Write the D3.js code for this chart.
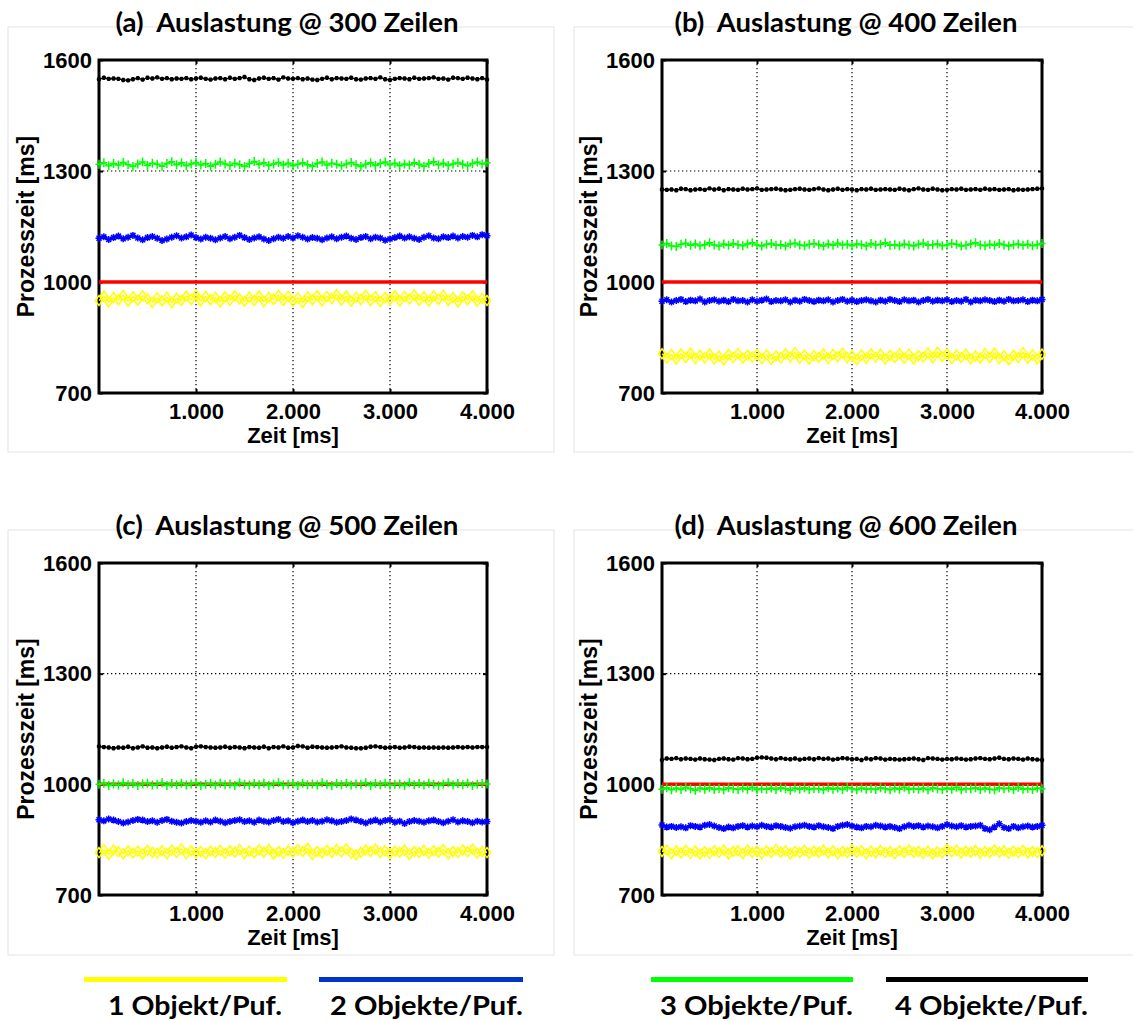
<!DOCTYPE html>
<html>
<head>
<meta charset="utf-8">
<script src="https://cdn.jsdelivr.net/npm/d3@7"></script>
<style>
body { margin: 0; background: #fff; }
text { fill: #000; }
</style>
</head>
<body>
<script>
var W = 1133, H = 1021;

var titles = ["(a)  Auslastung @ 300 Zeilen", "(b)  Auslastung @ 400 Zeilen",
              "(c)  Auslastung @ 500 Zeilen", "(d)  Auslastung @ 600 Zeilen"];
var seriesNames = ["1 Objekt/Puf.", "2 Objekte/Puf.", "3 Objekte/Puf.", "4 Objekte/Puf."];
var yTicks = [700, 1000, 1300, 1600];
var xTicks = [1000, 2000, 3000, 4000];
var xMax = 4000;
var target = 1000;   // red reference line

// (a) 300 Zeilen
var a1 = [950,962,946,958,952,964,948,960,951,963,955,945,957,949,959,944,956,950,962,953,965,949,961,952,958,946,960,951,963,954,948,959,950,962,947,958,953,964,950,961,948,957,945,960,952,963,949,961,955,966,951,962,948,959,953,964,950,960,947,958,952,963,949,961,954,965,951,960,948,962,953,964,950,958,946,960,952,963,948,956,950];
var a2 = [1118,1122,1115,1120,1124,1117,1121,1126,1119,1114,1120,1123,1118,1112,1116,1121,1125,1119,1122,1127,1120,1116,1121,1118,1114,1119,1123,1117,1121,1126,1120,1115,1119,1122,1116,1112,1117,1121,1118,1123,1119,1125,1121,1116,1120,1118,1114,1119,1122,1117,1121,1124,1118,1115,1120,1123,1117,1121,1119,1113,1116,1120,1124,1119,1122,1118,1115,1121,1125,1119,1117,1122,1120,1124,1119,1123,1121,1126,1122,1128,1125];
var a3 = [1318,1322,1314,1320,1316,1323,1317,1312,1319,1324,1315,1321,1318,1313,1320,1325,1317,1322,1314,1319,1323,1316,1320,1313,1318,1324,1319,1315,1321,1317,1312,1320,1326,1318,1322,1315,1319,1323,1316,1321,1314,1318,1322,1317,1313,1320,1324,1316,1321,1318,1314,1319,1323,1317,1312,1318,1322,1315,1320,1324,1317,1321,1314,1319,1316,1322,1318,1313,1320,1325,1317,1321,1315,1319,1323,1318,1314,1320,1324,1319,1322];
var a4 = [1548,1552,1549,1550,1549,1546,1545,1548,1551,1547,1552,1550,1553,1549,1551,1548,1550,1549,1551,1548,1550,1552,1549,1547,1550,1551,1548,1552,1549,1551,1554,1548,1546,1550,1552,1549,1551,1547,1553,1550,1549,1551,1548,1550,1547,1546,1549,1552,1548,1551,1550,1549,1552,1548,1547,1550,1551,1549,1553,1548,1546,1549,1551,1550,1548,1552,1549,1550,1551,1553,1549,1550,1547,1552,1551,1549,1552,1550,1548,1551,1547];

// (b) 400 Zeilen
var b1 = [806,794,804,792,806,796,808,793,802,795,806,792,800,790,804,796,807,794,802,797,805,793,803,791,800,795,806,797,809,794,803,792,801,796,806,793,804,798,808,795,800,790,803,794,806,797,805,792,802,796,807,794,805,792,801,797,808,795,810,798,806,793,803,796,805,792,800,794,807,796,808,793,801,790,802,796,809,794,803,792,805];
var b2 = [948,952,946,950,953,947,951,949,954,946,950,952,948,951,947,953,949,950,946,952,948,951,954,947,950,949,952,946,951,948,953,950,947,951,949,952,946,950,953,948,951,947,950,952,949,946,951,948,953,950,947,952,949,951,946,950,953,948,951,949,952,947,950,948,953,946,951,949,952,950,947,951,948,953,949,950,952,947,951,949,953];
var b3 = [1100,1104,1097,1096,1102,1105,1099,1103,1098,1101,1106,1100,1097,1103,1099,1104,1101,1098,1103,1106,1100,1097,1102,1104,1099,1101,1097,1103,1105,1100,1098,1102,1104,1101,1097,1103,1099,1105,1100,1102,1098,1103,1101,1097,1104,1100,1102,1106,1099,1101,1098,1103,1100,1097,1102,1105,1099,1101,1103,1098,1100,1104,1102,1097,1099,1103,1106,1100,1098,1102,1099,1104,1100,1097,1101,1103,1099,1102,1098,1101,1104];
var b4 = [1250,1249,1250,1248,1252,1251,1248,1250,1251,1249,1253,1250,1252,1248,1251,1250,1249,1252,1250,1251,1253,1249,1250,1251,1252,1250,1248,1249,1251,1252,1250,1249,1251,1253,1250,1248,1250,1252,1249,1251,1250,1248,1251,1250,1252,1249,1250,1251,1250,1249,1252,1250,1248,1251,1253,1250,1249,1252,1250,1248,1249,1251,1250,1252,1249,1250,1251,1249,1252,1250,1251,1249,1250,1251,1248,1250,1249,1250,1251,1252,1253];

// (c) 500 Zeilen
var c1 = [815,823,810,822,817,812,820,814,819,811,821,816,813,820,812,822,815,825,812,820,814,818,812,819,815,821,813,820,816,823,812,819,814,822,816,824,811,818,813,820,816,823,818,826,810,818,814,821,815,823,817,825,813,809,816,822,818,824,815,820,812,819,816,822,810,818,815,821,813,820,816,823,812,818,815,822,817,824,813,818,815];
var c2 = [904,901,906,903,899,895,898,902,905,903,899,901,897,902,905,900,897,895,899,902,900,897,901,898,903,900,896,899,902,904,899,901,897,903,900,898,902,905,899,901,896,900,903,899,902,898,900,904,901,897,899,902,906,903,899,895,900,903,898,902,904,897,900,894,899,902,900,897,901,903,899,896,900,904,898,901,899,896,900,898,899];
var c3 = [1000,1003,997,1001,998,1004,999,1002,997,1001,1003,998,1000,1004,997,1002,999,1003,998,1001,1004,997,1000,1002,998,1003,999,1001,997,1004,1000,998,1002,999,1003,997,1001,1004,998,1000,1002,997,1003,999,1001,998,1004,1000,997,1002,999,1003,998,1001,1000,1004,997,1002,999,1003,998,1000,1001,997,1004,999,1002,998,1003,1000,997,1001,1004,998,1002,999,1003,997,1000,1002,1001];
var c4 = [1103,1101,1100,1098,1100,1099,1102,1098,1100,1103,1099,1100,1098,1100,1102,1099,1101,1103,1100,1098,1102,1103,1101,1100,1099,1100,1102,1099,1101,1100,1098,1101,1100,1099,1102,1098,1101,1100,1103,1099,1100,1104,1103,1099,1102,1101,1100,1099,1100,1101,1103,1100,1099,1098,1098,1099,1102,1103,1101,1099,1100,1101,1099,1100,1102,1101,1099,1100,1099,1100,1099,1100,1099,1100,1101,1100,1101,1100,1101,1101,1101];

// (d) 600 Zeilen
var d1 = [818,822,812,820,814,821,813,819,811,817,813,820,815,822,811,818,820,812,822,815,819,812,820,815,823,816,820,811,818,815,821,813,819,816,822,814,820,812,818,815,823,816,820,812,819,814,821,815,818,812,820,815,822,816,818,813,819,811,817,814,824,817,821,814,819,816,821,813,818,815,822,816,820,813,819,815,821,814,818,815,820];
var d2 = [890,884,886,883,885,882,888,886,884,889,891,887,883,880,884,882,886,888,884,887,885,889,886,884,888,886,883,881,885,887,889,886,884,888,885,883,880,886,889,891,887,884,882,886,885,889,887,884,886,883,880,885,889,886,888,884,887,885,882,886,891,887,885,888,884,886,887,889,880,877,884,893,883,880,886,882,885,887,884,886,889];
var d3s = [987,991,985,990,986,992,988,984,990,987,991,986,989,985,991,988,986,990,987,992,985,989,987,990,986,991,988,984,990,987,991,986,989,988,985,991,987,990,986,992,988,985,990,987,989,986,991,988,985,990,987,992,986,989,987,990,985,991,988,986,990,987,992,985,989,988,991,986,990,987,985,991,988,990,986,992,987,989,986,990,988];
var d4 = [1066,1070,1069,1071,1068,1070,1069,1067,1070,1068,1067,1066,1069,1070,1068,1067,1071,1070,1068,1069,1072,1073,1072,1070,1068,1071,1069,1068,1070,1067,1069,1070,1068,1071,1069,1070,1067,1069,1071,1070,1068,1069,1066,1070,1068,1071,1070,1067,1069,1068,1067,1068,1069,1070,1068,1066,1071,1070,1069,1067,1069,1068,1070,1069,1067,1068,1070,1071,1069,1068,1070,1072,1069,1068,1070,1069,1067,1070,1068,1067,1066];

var panelData = [[a1, a2, a3, a4], [b1, b2, b3, b4], [c1, c2, c3, c4], [d1, d2, d3s, d4]];

// plot boxes
var boxes = [
    {l: 99,  r: 487,  t: 60,  b: 393, fx: 8,   fy: 27,  fw: 546, fh: 425},
    {l: 662, r: 1042, t: 60,  b: 393, fx: 574, fy: 27,  fw: 580, fh: 425},
    {l: 99,  r: 487,  t: 563, b: 895, fx: 8,   fy: 530, fw: 546, fh: 425},
    {l: 662, r: 1042, t: 563, b: 895, fx: 574, fy: 530, fw: 580, fh: 425}
];

var lineColors = ["#ffff00", "#0000ff", "#00ff00", "#000000"];
var legendColors = ["#ffff00", "#0033cc", "#00ff00", "#000000"];

var de = d3.formatLocale({decimal: ",", thousands: ".", grouping: [3], currency: ["", " €"]});
var fmtX = de.format(",d");
var fmtY = d3.format("d");

var svg = d3.select("body").append("svg")
    .attr("width", W).attr("height", H)
    .style("font-family", "'Liberation Sans', Arial, sans-serif");

svg.append("rect").attr("width", W).attr("height", H).attr("fill", "#fff");

// marker shapes
function markerPath(kind) {
    if (kind == 0) return "M0,-5L3.6,0L0,5L-3.6,0Z";                       // diamond
    if (kind == 1) return "M-3.5,0H3.5M0,-3.5V3.5M-2.5,-2.5L2.5,2.5M-2.5,2.5L2.5,-2.5"; // star
    if (kind == 2) return "M-3.5,0H3.5M0,-4.5V4.5";                        // plus
    return "M-2.2,0H2.2M0,-2.2V2.2M-1.6,-1.6L1.6,1.6M-1.6,1.6L1.6,-1.6";   // small dot-star
}

function drawPanel(k) {
    var bx = boxes[k];
    var g = svg.append("g");

    // faint figure frame
    g.append("rect")
        .attr("x", bx.fx).attr("y", bx.fy)
        .attr("width", bx.fw).attr("height", bx.fh)
        .attr("fill", "none").attr("stroke", "#e4e4e4").attr("stroke-width", 1);

    var x = d3.scaleLinear().domain([0, xMax]).range([bx.l, bx.r]);
    var y = d3.scaleLinear().domain([700, 1600]).range([bx.b, bx.t]);

    // dotted grid
    g.selectAll(".vg").data(xTicks.slice(0, 3)).enter().append("line")
        .attr("x1", function(d) { return x(d); }).attr("x2", function(d) { return x(d); })
        .attr("y1", bx.t).attr("y2", bx.b)
        .attr("stroke", "#000").attr("stroke-width", 1.2).attr("stroke-dasharray", "1.3,2.7");
    g.selectAll(".hg").data(yTicks.slice(1, 3)).enter().append("line")
        .attr("y1", function(d) { return y(d); }).attr("y2", function(d) { return y(d); })
        .attr("x1", bx.l).attr("x2", bx.r)
        .attr("stroke", "#000").attr("stroke-width", 1.2).attr("stroke-dasharray", "1.3,2.7");

    // axes: labels + inward ticks
    var xa = g.append("g").attr("transform", "translate(0," + bx.b + ")")
        .call(d3.axisBottom(x).tickValues(xTicks).tickSize(-4).tickPadding(10).tickFormat(fmtX));
    var xTop = g.append("g").attr("transform", "translate(0," + bx.t + ")")
        .call(d3.axisTop(x).tickValues(xTicks).tickSize(-4).tickFormat(""));
    var ya = g.append("g").attr("transform", "translate(" + bx.l + ",0)")
        .call(d3.axisLeft(y).tickValues(yTicks).tickSize(-4).tickPadding(7).tickFormat(fmtY));
    var yRight = g.append("g").attr("transform", "translate(" + bx.r + ",0)")
        .call(d3.axisRight(y).tickValues(yTicks).tickSize(-4).tickFormat(""));
    [xa, xTop, ya, yRight].forEach(function(a) {
        a.select(".domain").remove();
        a.selectAll(".tick line").attr("stroke", "#000").attr("stroke-width", 2);
    });
    [xa, ya].forEach(function(a) {
        a.selectAll("text").attr("font-size", 22).attr("font-weight", "bold")
            .attr("font-family", "'Liberation Sans', Arial, sans-serif").attr("fill", "#000");
    });

    // frame
    g.append("rect")
        .attr("x", bx.l).attr("y", bx.t)
        .attr("width", bx.r - bx.l).attr("height", bx.b - bx.t)
        .attr("fill", "none").attr("stroke", "#000").attr("stroke-width", 3);

    // red reference line
    g.append("line")
        .attr("x1", x(0)).attr("x2", x(xMax))
        .attr("y1", y(target)).attr("y2", y(target))
        .attr("stroke", "#ff0000").attr("stroke-width", 3.5);

    // series
    panelData[k].forEach(function(vals, s) {
        var pts = vals.map(function(v, i) { return [i * xMax / (vals.length - 1), v]; });
        var line = d3.line().x(function(d) { return x(d[0]); }).y(function(d) { return y(d[1]); });
        g.append("path").datum(pts)
            .attr("d", line)
            .attr("fill", "none")
            .attr("stroke", lineColors[s])
            .attr("stroke-width", s == 0 ? 1.5 : 1.2);
        g.selectAll(".m" + s).data(pts).enter().append("path")
            .attr("transform", function(d) { return "translate(" + x(d[0]) + "," + y(d[1]) + ")"; })
            .attr("d", markerPath(s))
            .attr("fill", "none")
            .attr("stroke", lineColors[s])
            .attr("stroke-width", s == 3 ? 1.7 : 1.5);
    });

    // axis labels
    g.append("text")
        .attr("x", (bx.l + bx.r) / 2).attr("y", bx.b + 50)
        .attr("text-anchor", "middle")
        .attr("font-size", 22).attr("font-weight", "bold")
        .text("Zeit [ms]");
    g.append("text")
        .attr("transform", "translate(" + (bx.l - 65) + "," + ((bx.t + bx.b) / 2) + ") rotate(-90)")
        .attr("text-anchor", "middle")
        .attr("font-size", 23).attr("font-weight", "bold")
        .text("Prozesszeit [ms]");

    // title
    g.append("text")
        .attr("x", (bx.l + bx.r) / 2 - 6).attr("y", bx.t - 28)
        .attr("text-anchor", "middle")
        .attr("font-family", "Lato, 'Open Sans', sans-serif")
        .attr("font-size", 26).attr("font-weight", "bold")
        .attr("textLength", 343).attr("lengthAdjust", "spacingAndGlyphs")
        .style("white-space", "pre")
        .text(titles[k]);
}

for (var k = 0; k < 4; k++) drawPanel(k);

// legend
var legendX = [[84, 287], [319, 523], [651, 853], [886, 1088]];
var leg = svg.append("g");
seriesNames.forEach(function(name, i) {
    leg.append("line")
        .attr("x1", legendX[i][0]).attr("x2", legendX[i][1])
        .attr("y1", 979.5).attr("y2", 979.5)
        .attr("stroke", legendColors[i]).attr("stroke-width", 5);
    leg.append("text")
        .attr("x", legendX[i][1] - (i == 0 ? 5 : 0)).attr("y", 1015)
        .attr("text-anchor", "end")
        .attr("font-family", "Lato, 'Open Sans', sans-serif")
        .attr("font-size", 27).attr("font-weight", "bold")
        .attr("textLength", i == 0 ? 174 : 193).attr("lengthAdjust", "spacingAndGlyphs")
        .text(name);
});
</script>
</body>
</html>
